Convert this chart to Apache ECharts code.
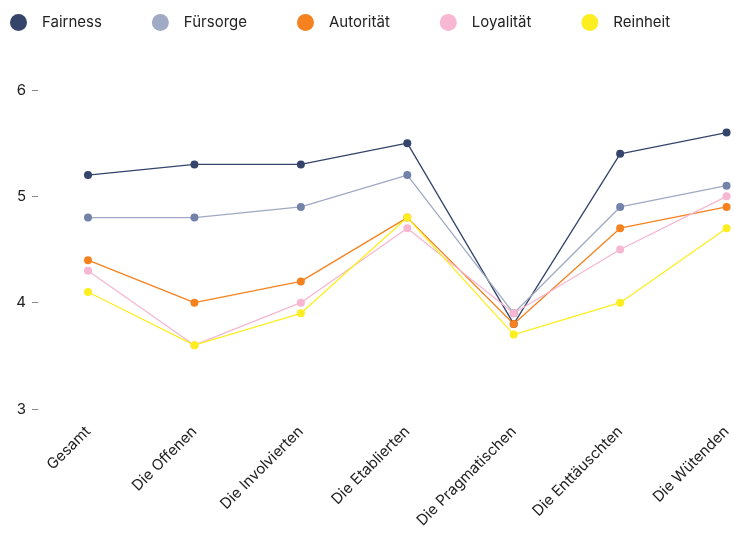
<!DOCTYPE html>
<html>
<head>
<meta charset="utf-8">
<script src="https://cdn.jsdelivr.net/npm/echarts@6/dist/echarts.min.js"></script>
<style>
  html, body { margin: 0; padding: 0; background: #fff; }
  #box { width: 734px; height: 534px; }
</style>
</head>
<body>
<div id="box"></div>
<script>
var categories = ['Gesamt', 'Die Offenen', 'Die Involvierten', 'Die Etablierten', 'Die Pragmatischen', 'Die Enttäuschten', 'Die Wütenden'];
var fairness = [5.2, 5.3, 5.3, 5.5, 3.8, 5.4, 5.6];
var fuersorge = [4.8, 4.8, 4.9, 5.2, 3.9, 4.9, 5.1];
var autoritaet = [4.4, 4.0, 4.2, 4.8, 3.8, 4.7, 4.9];
var loyalitaet = [4.3, 3.6, 4.0, 4.7, 3.9, 4.5, 5.0];
var reinheit = [4.1, 3.6, 3.9, 4.8, 3.7, 4.0, 4.7];

var myChart = echarts.init(document.getElementById('box'));

function line(name, data, dot, stroke) {
    return {
        name: name,
        type: 'line',
        data: data,
        symbol: 'circle',
        symbolSize: 8,
        itemStyle: { color: dot },
        lineStyle: { color: stroke, width: 1.3 },
        emphasis: { disabled: true }
    };
}

var font = 'Inter, "Noto Sans", sans-serif';

var option = {
    backgroundColor: '#fff',
    animation: false,
    textStyle: { fontFamily: font },
    legend: {
        left: 5,
        top: 9,
        icon: 'circle',
        itemWidth: 17,
        itemHeight: 17,
        itemGap: 50,
        textStyle: { fontSize: 15, color: '#222', fontFamily: font, padding: [0, 0, 0, 10] },
        data: [
            { name: 'Fairness', itemStyle: { color: '#34446a' } },
            { name: 'Fürsorge', itemStyle: { color: '#a0aac4' } },
            { name: 'Autorität', itemStyle: { color: '#f5821f' } },
            { name: 'Loyalität', itemStyle: { color: '#f7b6d2' } },
            { name: 'Reinheit', itemStyle: { color: '#fcee21' } }
        ]
    },
    grid: { left: 88, right: 3, top: 90, bottom: 125, containLabel: false },
    xAxis: {
        type: 'category',
        data: categories,
        boundaryGap: false,
        axisLine: { show: false },
        axisTick: { show: false },
        axisLabel: { rotate: 45, fontSize: 15, color: '#222', margin: 20, interval: 0 }
    },
    yAxis: {
        type: 'value',
        min: 3,
        max: 6,
        interval: 1,
        offset: 50,
        axisLine: { show: false },
        axisTick: { show: true, length: 6, lineStyle: { color: '#888' } },
        splitLine: { show: false },
        axisLabel: { fontSize: 15, color: '#222', margin: 12 }
    },
    series: [
        line('Fairness', fairness, '#34446a', '#34446a'),
        line('Fürsorge', fuersorge, '#7282a8', '#9fa9c2'),
        line('Autorität', autoritaet, '#f5821f', '#f5821f'),
        line('Loyalität', loyalitaet, '#f7b6d2', '#f7b6d2'),
        line('Reinheit', reinheit, '#fcee21', '#fcee21')
    ]
};
myChart.setOption(option);
</script>
</body>
</html>
